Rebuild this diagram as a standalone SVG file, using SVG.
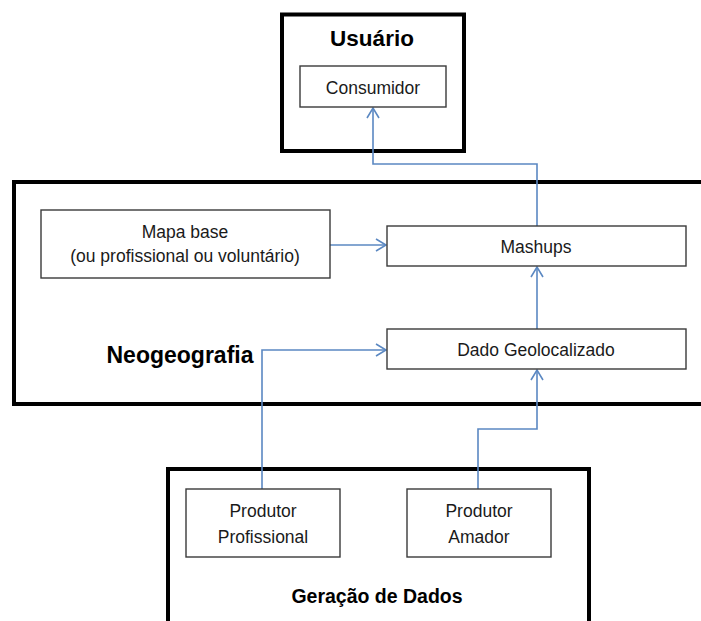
<svg xmlns="http://www.w3.org/2000/svg" width="701" height="621" viewBox="0 0 701 621">
<style>
.outer{fill:none;stroke:#000;stroke-width:4}
.box{fill:#fff;stroke:#3a3a3a;stroke-width:1.4}
.t{font-family:"Liberation Sans",Arial,sans-serif;font-size:17.5px;fill:#1a1a1a;text-anchor:middle}
.b{font-family:"Liberation Sans",Arial,sans-serif;font-weight:bold;fill:#000;text-anchor:middle}
.c{fill:none;stroke:#5b88c2;stroke-width:1.6}
</style>
<defs>
<marker id="ah" markerUnits="userSpaceOnUse" markerWidth="16" markerHeight="16" refX="11" refY="7" orient="auto">
<path d="M1,1 L11,7 L1,13" fill="none" stroke="#5b88c2" stroke-width="1.6"/>
</marker>
</defs>
<rect width="701" height="621" fill="#fff"/>
<g id="usuario">
<rect class="outer" x="282" y="14.5" width="182" height="136.5"/>
<text class="b" x="372" y="46" font-size="22.5">Usuário</text>
</g>
<g id="neogeografia">
<rect class="outer" x="14" y="182" width="700" height="222"/>
<text class="b" x="180" y="363" font-size="23">Neogeografia</text>
</g>
<g id="geracao">
<rect class="outer" x="168" y="469" width="421" height="170"/>
<text class="b" x="377" y="603" font-size="19.5">Geração de Dados</text>
</g>
<g id="connectors">
<path class="c" d="M330,245 L386,245" marker-end="url(#ah)"/>
<path class="c" d="M537,329 L537,267" marker-end="url(#ah)"/>
<path class="c" d="M537,226 L537,164 L373,164 L373,108" marker-end="url(#ah)"/>
<path class="c" d="M262,489 L262,350 L386,350" marker-end="url(#ah)"/>
<path class="c" d="M478,489 L478,429 L537,429 L537,370" marker-end="url(#ah)"/>
</g>
<g id="consumidor">
<rect class="box" x="300" y="66" width="146" height="41"/>
<text class="t" x="373" y="94">Consumidor</text>
</g>
<g id="mapa">
<rect class="box" x="41" y="210" width="289" height="68"/>
<text class="t" x="185" y="238">Mapa base</text>
<text class="t" x="185" y="262" font-size="18.3">(ou profissional ou voluntário)</text>
</g>
<g id="mashups">
<rect class="box" x="387" y="226" width="299" height="40"/>
<text class="t" x="536" y="253">Mashups</text>
</g>
<g id="dado">
<rect class="box" x="387" y="329" width="299" height="40"/>
<text class="t" x="536" y="356">Dado Geolocalizado</text>
</g>
<g id="profissional">
<rect class="box" x="186" y="489" width="154" height="68"/>
<text class="t" x="263" y="517">Produtor</text>
<text class="t" x="263" y="543">Profissional</text>
</g>
<g id="amador">
<rect class="box" x="407" y="489" width="144" height="68"/>
<text class="t" x="479" y="517">Produtor</text>
<text class="t" x="479" y="543">Amador</text>
</g>
</svg>
